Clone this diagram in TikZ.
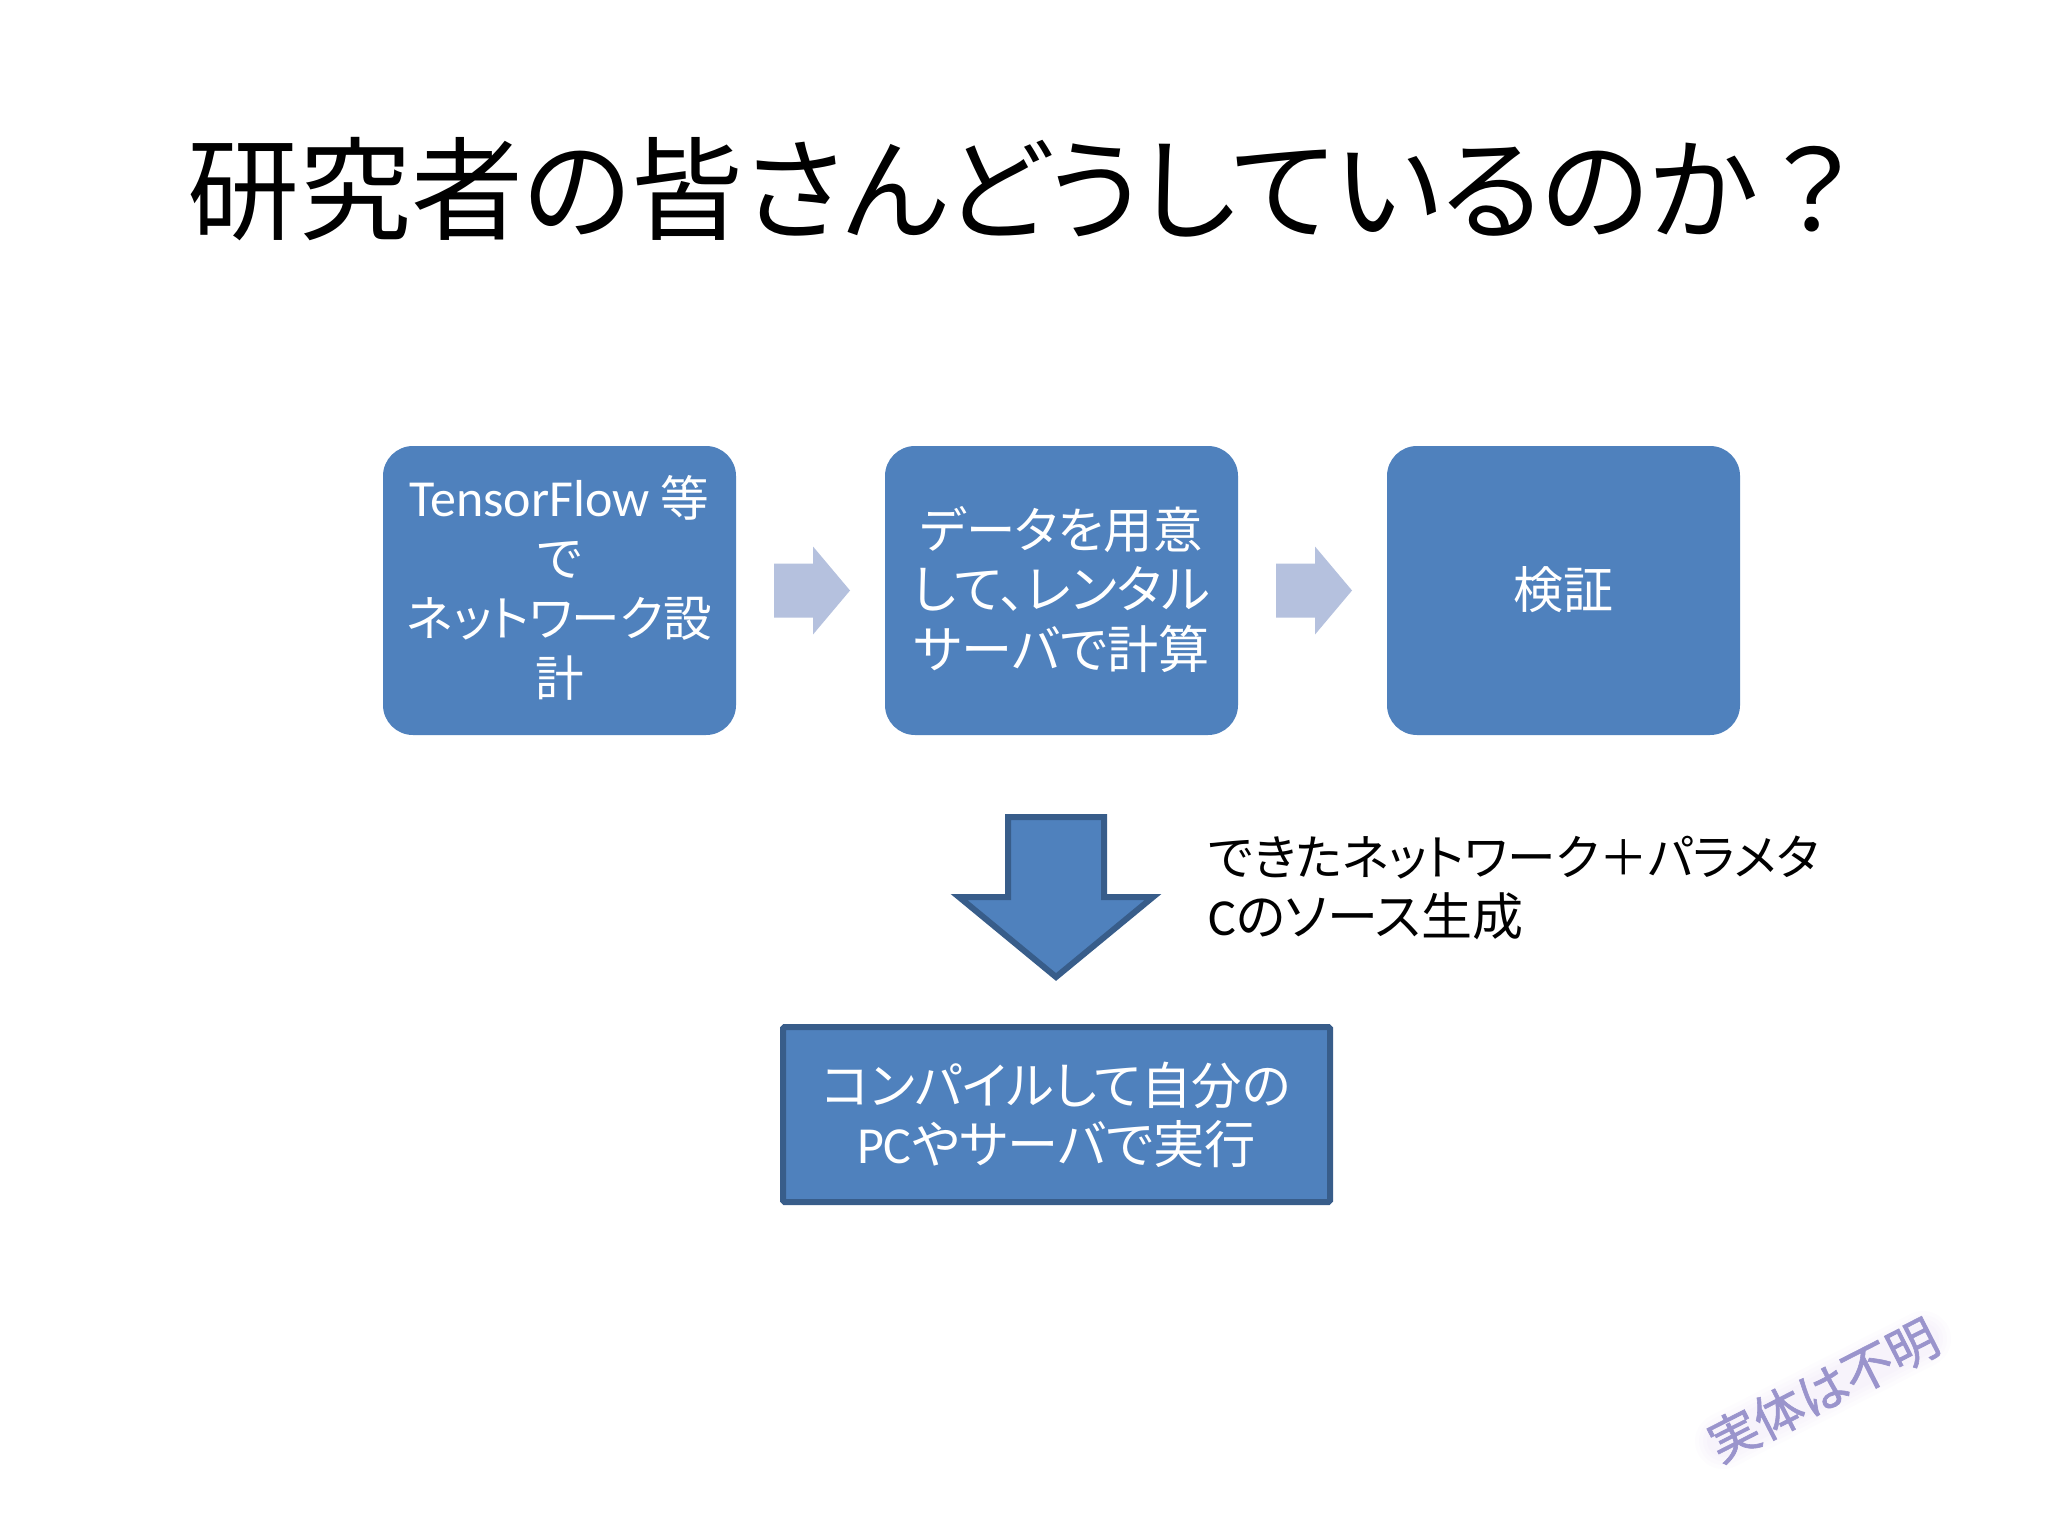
\documentclass[tikz,border=0pt]{standalone}
\usepackage{fontspec}
\setmainfont{Noto Sans CJK JP}[RawFeature=+palt]
\newfontfamily\latfont{Carlito}
\newfontfamily\wmfont{Noto Sans CJK JP}[RawFeature=+palt,FakeBold=1.2]
\newcommand{\lat}[1]{{\latfont\fontsize{26}{30}\selectfont #1}}
\newcommand{\fs}[1]{\fontsize{#1}{30}\selectfont}
\newcommand{\up}[1][2.6pt]{\rule[-#1]{0pt}{0pt}}
\usetikzlibrary{calc}
\definecolor{boxblue}{HTML}{4F81BD}
\definecolor{boxedge}{HTML}{385D8A}
\definecolor{lightarrow}{HTML}{B5C1DE}
\definecolor{wmtext}{HTML}{9A94CC}
\definecolor{wmglow}{HTML}{B4A0F0}
\tikzset{
  x=0.5pt,y=-0.5pt,
  basebox/.style={fill=boxblue,text=white,align=center,inner sep=0pt,outer sep=0pt,anchor=north west,
    font=\fontsize{25}{30}\selectfont},
  roundbox/.style={basebox,rounded corners=15pt,minimum width=176.5pt,minimum height=144.5pt},
  flatbox/.style={basebox,draw=boxedge,line width=3pt,rounded corners=0.8pt,minimum width=273.5pt,minimum height=87.5pt},
  lightblock/.style={fill=lightarrow},
  bigblock/.style={fill=boxblue,draw=boxedge,line width=3pt,miter limit=10},
  plaintext/.style={font=\fontsize{24.3}{30}\selectfont,align=left,inner sep=0pt,anchor=west},
  titletext/.style={font=\fontsize{56}{60}\selectfont,inner sep=0pt,anchor=west},
  watermark/.style={font=\wmfont\fontsize{25}{30}\selectfont,inner sep=0pt,rotate=27,text=wmtext},
  halo/.style={draw=wmglow,line cap=round,opacity=.025},
}
\begin{document}
\begin{tikzpicture}
\useasboundingbox (0,0) rectangle (2048,1536);
\fill[white] (0,0) rectangle (2048,1536);
\node[titletext] (title) at (187,189) {研究者の皆さんどうしているのか\hspace{7pt}？};
\node[roundbox] (design) at (383,446) {\lat{TensorFlow} \fs{24.3}等\\\fs{24.3}で\\\fs{24.3}ネットワーク設\\\fs{24.3}計\up[5pt]};
\node[roundbox] (rent) at (885,446) {\fs{24.7}データを用意\\\fs{25.8}して、レンタル\\\fs{25.6}サーバで計算\up[3.4pt]};
\node[roundbox] (verify) at (1387,446) {\fs{25}検証\up[3.4pt]};
\coordinate (a1) at ($(design.east)+(38,0)$);
\coordinate (a2) at ($(rent.east)+(38,0)$);
\foreach \a in {a1,a2}{
  \fill[lightblock,shift={(\a)}] (0,-27) -- (39,-27) -- (39,-44) -- (76,0) -- (39,44) -- (39,27) -- (0,27) -- cycle;
}
\coordinate (d) at (1056,817);
\draw[bigblock,shift={(d)}] (-48,0) -- (48,0) -- (48,80) -- (97,80) -- (0,160) -- (-97,80) -- (-48,80) -- cycle;
\node[flatbox] (run) at (783,1027) {\raisebox{-1.6pt}{\fs{25.2}コンパイルして自分の}\\\raisebox{-1pt}{\fs{25.6}\lat{PC}やサーバで実行}};
\node[plaintext] (note) at (1208,888) {できたネットワーク＋パラメタ\\\fs{25.5}\lat{C}のソース生成};
\coordinate (wmc) at (1823,1390);
\foreach \w in {28,24,20,16}{
  \draw[halo,line width=\w pt] ($(wmc)+(-100,51)$) -- ($(wmc)+(100,-51)$);
}
\node[watermark] (wm) at (wmc) {実体は不明};
\end{tikzpicture}
\end{document}
